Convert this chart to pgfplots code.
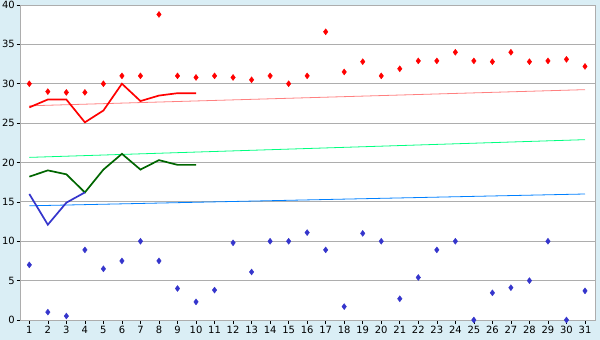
\documentclass[border=0pt]{standalone}
\usepackage{pgfplots}
\pgfplotsset{compat=1.18}
\usepackage{fontspec}
\setmainfont{DejaVu Sans}
\usetikzlibrary{backgrounds,calc}
\definecolor{bgblue}{HTML}{DAEEF5}
\definecolor{mxred}{HTML}{FF0000}
\definecolor{mnblue}{HTML}{3535CC}
\definecolor{dgreen}{HTML}{006600}
\definecolor{trred}{HTML}{FF8080}
\definecolor{trgreen}{HTML}{00FF80}
\definecolor{trblue}{HTML}{0080FF}
\begin{document}
\begin{tikzpicture}
\begin{axis}[
  scale only axis,
  width=574.3bp, height=315bp,
  xmin=0.535, xmax=31.54, ymin=0, ymax=40,
  xtick={1,...,31}, ytick={0,5,...,40},
  ymajorgrids, grid style={color=black!32, line width=0.8pt},
  axis line style={color=black!32, line width=0.8pt},
  tick style={color=black, line width=0.6pt},
  tick align=outside, major tick length=4bp,
  xtick pos=bottom, ytick pos=left,
  axis background/.style={fill=white},
  tick label style={font=\fontsize{10}{12}\selectfont},
  /pgf/number format/assume math mode=true,
  xticklabel style={yshift=1bp},
  yticklabel style={xshift=1.5bp},
  clip=false,
]
% trend lines
\addplot[trred, line width=0.8pt] coordinates {(1,27.2) (31,29.25)};
\addplot[trgreen, line width=0.8pt] coordinates {(1,20.65) (31,22.9)};
\addplot[trblue, line width=0.8pt] coordinates {(1,14.5) (31,16.0)};
% thick lines
\addplot[mxred, line width=1.7pt] coordinates {(1,27) (2,28) (3,28) (4,25.1) (5,26.6) (6,30) (7,27.8) (8,28.5) (9,28.8) (10,28.8)};
\addplot[dgreen, line width=1.7pt] coordinates {(1,18.2) (2,19.0) (3,18.5) (4,16.2) (5,19.1) (6,21.1) (7,19.1) (8,20.3) (9,19.7) (10,19.7)};
\addplot[mnblue, line width=1.7pt] coordinates {(1,16.0) (2,12.1) (3,14.9) (4,16.2)};
% max
\addplot[only marks, mark=diamond*, mark size=3pt, color=mxred] coordinates {
(1,30) (2,29) (3,28.9) (4,28.9) (5,30) (6,31) (7,31) (8,38.8) (9,31) (10,30.8)
(11,31) (12,30.8) (13,30.5) (14,31) (15,30) (16,31) (17,36.6) (18,31.5) (19,32.8) (20,31)
(21,31.9) (22,32.9) (23,32.9) (24,34) (25,32.9) (26,32.8) (27,34) (28,32.8) (29,32.9) (30,33.1) (31,32.2)};
% min
\addplot[only marks, mark=diamond*, mark size=3pt, color=mnblue] coordinates {
(1,7.0) (2,1.0) (3,0.5) (4,8.9) (5,6.5) (6,7.5) (7,10) (8,7.5) (9,4) (10,2.3)
(11,3.8) (12,9.8) (13,6.1) (14,10) (15,10) (16,11.1) (17,8.9) (18,1.7) (19,11) (20,10)
(21,2.7) (22,5.4) (23,8.9) (24,10) (25,0.0) (26,3.45) (27,4.1) (28,5.0) (29,10) (30,0) (31,3.7)};
\end{axis}
\pgfresetboundingbox
\path[use as bounding box] ($(current axis.south west)+(-20.7bp,-20bp)$) rectangle ++(600bp,340bp);
\begin{scope}[on background layer]
\fill[bgblue] ($(current axis.south west)+(-20.7bp,-20bp)$) rectangle ++(600bp,340bp);
\end{scope}
\end{tikzpicture}
\end{document}
